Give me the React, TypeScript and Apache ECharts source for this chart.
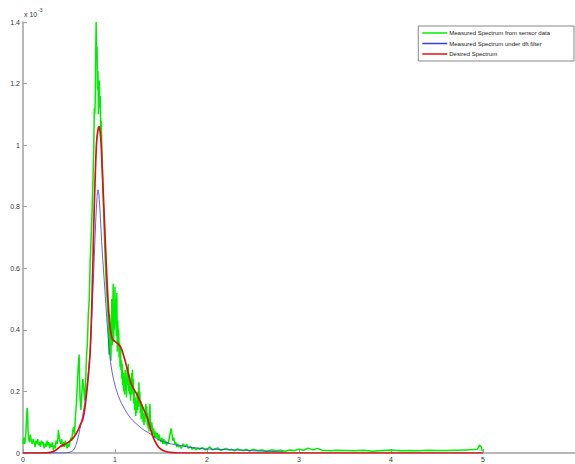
import React, { useEffect, useRef } from "react";
import * as echarts from "echarts";

// Values in units of 1e-3
const xTicks = [0, 1, 2, 3, 4, 5];
const yTicks = [0, 0.2, 0.4, 0.6, 0.8, 1, 1.2, 1.4];
const seriesNames = [
  "Measured Spectrum from sensor data",
  "Measured Spectrum under dft filter",
  "Desired Spectrum",
];

const greenData: [number, number][] = [
  [0.0, 0.03], [0.01, 0.05], [0.02, 0.03], [0.03, 0.06], [0.04, 0.12], [0.045, 0.146], [0.05, 0.13], [0.055, 0.07],
  [0.06, 0.05], [0.07, 0.035], [0.08, 0.06], [0.09, 0.04], [0.1, 0.03], [0.11, 0.045], [0.12, 0.035], [0.13, 0.02],
  [0.14, 0.04], [0.15, 0.03], [0.16, 0.045], [0.17, 0.025], [0.18, 0.035], [0.19, 0.02], [0.2, 0.04], [0.21, 0.03],
  [0.22, 0.035], [0.23, 0.015], [0.24, 0.03], [0.25, 0.02], [0.26, 0.04], [0.27, 0.025], [0.28, 0.035], [0.29, 0.015],
  [0.3, 0.03], [0.31, 0.02], [0.32, 0.035], [0.33, 0.01], [0.34, 0.025], [0.35, 0.015], [0.36, 0.04], [0.37, 0.03],
  [0.38, 0.05], [0.385, 0.075], [0.39, 0.06], [0.4, 0.04], [0.41, 0.03], [0.42, 0.045], [0.43, 0.02], [0.44, 0.035],
  [0.45, 0.02], [0.46, 0.04], [0.47, 0.025], [0.48, 0.015], [0.49, 0.03], [0.5, 0.02], [0.51, 0.035], [0.52, 0.05],
  [0.53, 0.04], [0.54, 0.07], [0.55, 0.085], [0.56, 0.06], [0.57, 0.12], [0.58, 0.16], [0.59, 0.22], [0.6, 0.28],
  [0.61, 0.32], [0.615, 0.25], [0.62, 0.18], [0.63, 0.14], [0.64, 0.2], [0.65, 0.24], [0.66, 0.21], [0.67, 0.17],
  [0.68, 0.22], [0.69, 0.31], [0.7, 0.36], [0.71, 0.45], [0.72, 0.5], [0.73, 0.62], [0.74, 0.7], [0.75, 0.78],
  [0.76, 0.88], [0.77, 1.0], [0.775, 1.12], [0.78, 1.1], [0.785, 1.14], [0.79, 1.28], [0.795, 1.4], [0.8, 1.3],
  [0.805, 1.32], [0.81, 1.18], [0.815, 1.24], [0.82, 1.1], [0.825, 1.2], [0.83, 1.21], [0.835, 1.12], [0.84, 1.16],
  [0.845, 1.05], [0.85, 1.08], [0.86, 0.95], [0.87, 0.85], [0.88, 0.75], [0.89, 0.66], [0.9, 0.58], [0.91, 0.52],
  [0.92, 0.47], [0.93, 0.4], [0.935, 0.32], [0.94, 0.45], [0.945, 0.38], [0.95, 0.42], [0.955, 0.3], [0.96, 0.38],
  [0.965, 0.5], [0.97, 0.35], [0.975, 0.42], [0.98, 0.55], [0.985, 0.36], [0.99, 0.48], [0.995, 0.4], [1.0, 0.54],
  [1.005, 0.42], [1.01, 0.5], [1.015, 0.38], [1.02, 0.52], [1.025, 0.33], [1.03, 0.43], [1.035, 0.35], [1.04, 0.4],
  [1.045, 0.31], [1.05, 0.36], [1.055, 0.28], [1.06, 0.34], [1.065, 0.27], [1.07, 0.3], [1.075, 0.24], [1.08, 0.29],
  [1.085, 0.22], [1.09, 0.26], [1.095, 0.2], [1.1, 0.25], [1.105, 0.19], [1.11, 0.27], [1.115, 0.21], [1.12, 0.24],
  [1.125, 0.18], [1.13, 0.26], [1.135, 0.28], [1.14, 0.22], [1.145, 0.29], [1.15, 0.2], [1.155, 0.25], [1.16, 0.19],
  [1.165, 0.23], [1.17, 0.17], [1.175, 0.22], [1.18, 0.26], [1.185, 0.19], [1.19, 0.27], [1.195, 0.21], [1.2, 0.24],
  [1.205, 0.16], [1.21, 0.2], [1.215, 0.14], [1.22, 0.18], [1.225, 0.12], [1.23, 0.17], [1.235, 0.13], [1.24, 0.19],
  [1.245, 0.14], [1.25, 0.2], [1.255, 0.15], [1.26, 0.23], [1.265, 0.16], [1.27, 0.2], [1.275, 0.13], [1.28, 0.17],
  [1.285, 0.11], [1.29, 0.16], [1.295, 0.12], [1.3, 0.15], [1.305, 0.1], [1.31, 0.13], [1.315, 0.09], [1.32, 0.12],
  [1.325, 0.1], [1.33, 0.14], [1.335, 0.16], [1.34, 0.12], [1.345, 0.15], [1.35, 0.09], [1.355, 0.13], [1.36, 0.08],
  [1.365, 0.11], [1.37, 0.07], [1.375, 0.12], [1.38, 0.16], [1.385, 0.1], [1.39, 0.08], [1.4, 0.1], [1.41, 0.06],
  [1.42, 0.08], [1.43, 0.05], [1.44, 0.07], [1.45, 0.05], [1.46, 0.065], [1.47, 0.04], [1.48, 0.06], [1.49, 0.045],
  [1.5, 0.035], [1.51, 0.05], [1.52, 0.03], [1.53, 0.045], [1.54, 0.03], [1.55, 0.04], [1.56, 0.025], [1.57, 0.035],
  [1.58, 0.03], [1.59, 0.05], [1.6, 0.065], [1.61, 0.08], [1.62, 0.06], [1.63, 0.04], [1.64, 0.05], [1.65, 0.03],
  [1.66, 0.035], [1.67, 0.02], [1.68, 0.03], [1.69, 0.02], [1.7, 0.025], [1.72, 0.015], [1.74, 0.03], [1.76, 0.02],
  [1.78, 0.028], [1.8, 0.015], [1.82, 0.022], [1.84, 0.012], [1.86, 0.018], [1.88, 0.01], [1.9, 0.016], [1.92, 0.012],
  [1.95, 0.018], [1.98, 0.01], [2.0, 0.012], [2.03, 0.02], [2.06, 0.01], [2.09, 0.014], [2.12, 0.016], [2.15, 0.008],
  [2.18, 0.012], [2.21, 0.015], [2.24, 0.01], [2.27, 0.012], [2.3, 0.007], [2.33, 0.013], [2.36, 0.01], [2.4, 0.008],
  [2.43, 0.012], [2.46, 0.006], [2.5, 0.012], [2.55, 0.008], [2.6, 0.01], [2.65, 0.006], [2.7, 0.01], [2.75, 0.008],
  [2.8, 0.009], [2.85, 0.006], [2.9, 0.01], [2.95, 0.008], [3.0, 0.012], [3.05, 0.009], [3.1, 0.016], [3.15, 0.01],
  [3.2, 0.015], [3.25, 0.009], [3.3, 0.008], [3.35, 0.007], [3.4, 0.009], [3.5, 0.008], [3.6, 0.007], [3.7, 0.009],
  [3.8, 0.006], [3.9, 0.008], [4.0, 0.01], [4.1, 0.007], [4.2, 0.008], [4.3, 0.007], [4.4, 0.009], [4.5, 0.008],
  [4.6, 0.008], [4.7, 0.009], [4.8, 0.01], [4.9, 0.011], [4.94, 0.012], [4.96, 0.026], [4.98, 0.02], [4.99, 0.008],
  [5.0, 0.006],
];

const blueData: [number, number][] = [
  [0, 0], [0.45, 0], [0.5, 0.002], [0.55, 0.01], [0.59, 0.04], [0.62, 0.08], [0.64, 0.107], [0.67, 0.16],
  [0.69, 0.2], [0.71, 0.26], [0.73, 0.33], [0.75, 0.46], [0.77, 0.6], [0.79, 0.75], [0.805, 0.83], [0.815, 0.855],
  [0.825, 0.84], [0.84, 0.77], [0.86, 0.66], [0.89, 0.53], [0.91, 0.44], [0.93, 0.36], [0.95, 0.3], [0.97, 0.26],
  [1.0, 0.22], [1.05, 0.175], [1.1, 0.145], [1.16, 0.117], [1.22, 0.098], [1.27, 0.085], [1.32, 0.073], [1.38, 0.063],
  [1.45, 0.047], [1.5, 0.04], [1.6, 0.03], [1.7, 0.025], [1.8, 0.019], [1.9, 0.016], [2.0, 0.013], [2.2, 0.011],
  [2.4, 0.009], [2.6, 0.006], [2.83, 0.004],
];

const redData: [number, number][] = [
  [0, 0], [0.2, 0], [0.3, 0.002], [0.35, 0.008], [0.4, 0.02], [0.45, 0.028], [0.5, 0.036], [0.55, 0.05],
  [0.6, 0.075], [0.62, 0.09], [0.65, 0.11], [0.67, 0.14], [0.69, 0.19], [0.71, 0.25], [0.73, 0.33], [0.75, 0.5],
  [0.77, 0.75], [0.785, 0.9], [0.8, 1.01], [0.815, 1.05], [0.826, 1.06], [0.838, 1.045], [0.85, 1.0], [0.87, 0.86],
  [0.89, 0.72], [0.91, 0.58], [0.93, 0.47], [0.95, 0.4], [0.97, 0.37], [0.99, 0.365], [1.01, 0.36], [1.03, 0.355],
  [1.06, 0.345], [1.08, 0.33], [1.11, 0.3], [1.14, 0.265], [1.17, 0.23], [1.2, 0.21], [1.24, 0.19], [1.27, 0.17],
  [1.3, 0.15], [1.33, 0.13], [1.35, 0.115], [1.38, 0.085], [1.41, 0.055], [1.44, 0.035], [1.47, 0.02], [1.5, 0.012],
  [1.55, 0.005], [1.6, 0.002], [1.7, 0], [2, 0], [3, 0], [4, 0], [5, 0],
];

const FONT = "'Liberation Sans', Arial, Helvetica, sans-serif";

export default function App() {
  const ref = useRef<HTMLDivElement>(null);
  useEffect(() => {
    if (!ref.current) return;
    const chart = echarts.init(ref.current, undefined, { renderer: "svg" });
    chart.setOption({
      animation: false,
      backgroundColor: "#ffffff",
      textStyle: { fontFamily: FONT },
      grid: { left: 23, right: 0, top: 22, bottom: 11, containLabel: false },
      xAxis: {
        type: "value",
        min: 0,
        max: 6,
        interval: 1,
        axisLine: { show: true, lineStyle: { color: "#a0a0a0", width: 1.5 } },
        axisTick: { show: true, inside: true, length: 4, lineStyle: { color: "#a0a0a0" } },
        splitLine: { show: false },
        axisLabel: {
          showMaxLabel: false,
          fontSize: 7,
          color: "#333",
          margin: 3,
          fontFamily: FONT,
          formatter: (v: number) => (xTicks.includes(v) ? String(v) : ""),
        },
      },
      yAxis: {
        type: "value",
        min: 0,
        max: 1.4,
        interval: 0.2,
        axisLine: { show: true, lineStyle: { color: "#a0a0a0", width: 1.5 } },
        axisTick: { show: true, inside: true, length: 4, lineStyle: { color: "#a0a0a0" } },
        splitLine: { show: false },
        axisLabel: {
          fontSize: 7,
          color: "#333",
          margin: 3,
          fontFamily: FONT,
          formatter: (v: number) => {
            const t = yTicks.find((y) => Math.abs(y - v) < 1e-9);
            return t === undefined ? "" : String(t);
          },
        },
      },
      legend: {
        orient: "vertical",
        right: 1,
        top: 26,
        padding: [3, 24, 3, 4],
        itemGap: 2.5,
        itemWidth: 25,
        itemHeight: 1.5,
        icon: "rect",
        borderColor: "#888",
        borderWidth: 1,
        backgroundColor: "#fff",
        textStyle: { fontSize: 6, color: "#222", fontFamily: FONT, lineHeight: 8, padding: [0, 0, 0, -3] },
        data: seriesNames,
      },
      graphic: [
        { type: "text", left: 24, top: 11, style: { text: "x 10", fontSize: 7, fill: "#333", fontFamily: FONT } },
        { type: "text", left: 38, top: 7, style: { text: "-3", fontSize: 5, fill: "#333", fontFamily: FONT } },
      ],
      series: [
        {
          name: seriesNames[0],
          type: "line",
          data: greenData,
          showSymbol: false,
          symbol: "none",
          lineStyle: { color: "#00ee00", width: 1.5 },
          itemStyle: { color: "#00ee00" },
          z: 2,
        },
        {
          name: seriesNames[1],
          type: "line",
          data: blueData,
          showSymbol: false,
          symbol: "none",
          smooth: 0.3,
          lineStyle: { color: "#3a3ad8", width: 0.8 },
          itemStyle: { color: "#3a3ad8" },
          z: 3,
        },
        {
          name: seriesNames[2],
          type: "line",
          data: redData,
          showSymbol: false,
          symbol: "none",
          smooth: 0.3,
          lineStyle: { color: "#dd1111", width: 1.7 },
          itemStyle: { color: "#dd1111" },
          z: 4,
        },
      ],
    });
    return () => chart.dispose();
  }, []);
  return (
    <div
      ref={ref}
      style={{ position: "fixed", left: 0, top: 0, width: 575, height: 464, background: "#fff" }}
    />
  );
}
